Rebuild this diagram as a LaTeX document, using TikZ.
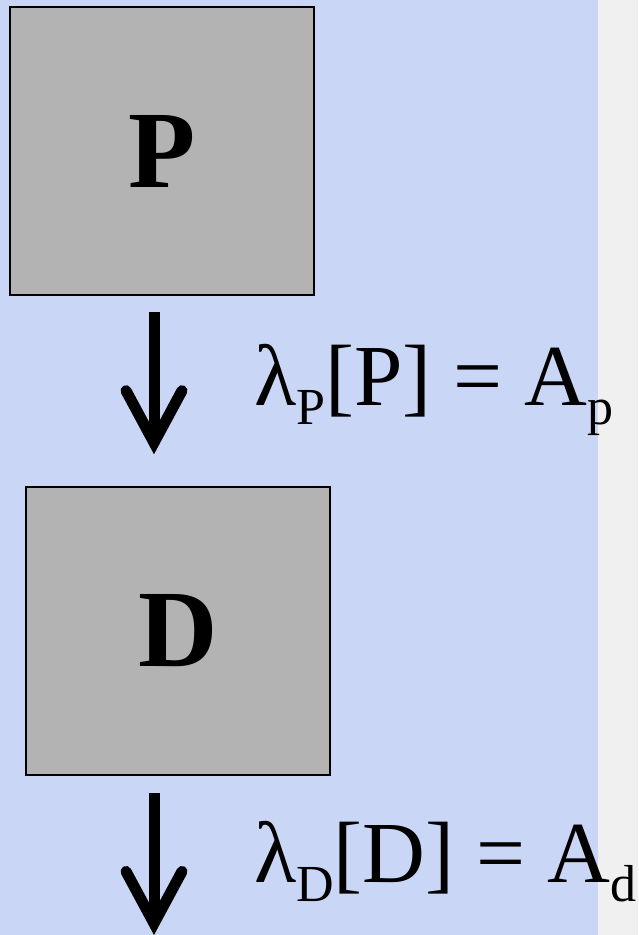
\documentclass[tikz,border=0pt]{standalone}
\usepackage{fontspec}
\setmainfont{Liberation Serif}
\usetikzlibrary{positioning,arrows.meta}
\definecolor{boxgray}{RGB}{179,179,179}
\definecolor{paper}{RGB}{202,214,246}
\definecolor{strip}{RGB}{240,240,240}
\newcommand\lowsub[1]{\raisebox{-19pt}{\fontsize{52}{52}\selectfont #1}}

\begin{document}
\begin{tikzpicture}[
  x=1pt, y=-1pt,
  box/.style={
    draw, line width=1.5pt, fill=boxgray,
    minimum width=304pt, minimum height=288pt,
    inner sep=0pt,
    font=\fontsize{110}{110}\selectfont\bfseries
  },
  flow/.style={line width=11pt,
    -{Straight Barb[length=52pt, width=56pt, line cap=round, line join=miter]}},
  rule/.style={anchor=base west, inner sep=0pt, font=\fontsize{87}{87}\selectfont}
]
\useasboundingbox (0,0) rectangle (638,935);

% --- Background ---
\fill[paper] (0,0) rectangle (598,935);
\fill[strip] (598,0) rectangle (638,935);

% --- Boxes ---
\node[box] (P) at (162,151) {P};
\node[box] (D) at (178,631) {D};

% --- Arrows ---
\coordinate (pout) at ([xshift=-8pt, yshift=-16pt]P.south);
\coordinate (din) at ([xshift=-24pt, yshift=32pt]D.north);
\coordinate (dout) at ([xshift=-24pt, yshift=-17pt]D.south);
\coordinate (next) at (154,935);

\draw[flow] (pout) -- (din);
\draw[flow] (dout) -- (next);

% --- Labels ---
\node[rule] (lamP) at (254,405) {λ\lowsub{P}[P] = A\lowsub{p}};
\node[rule] (lamD) at (254,882) {λ\lowsub{D}[D] = A\lowsub{d}};

\end{tikzpicture}
\end{document}
